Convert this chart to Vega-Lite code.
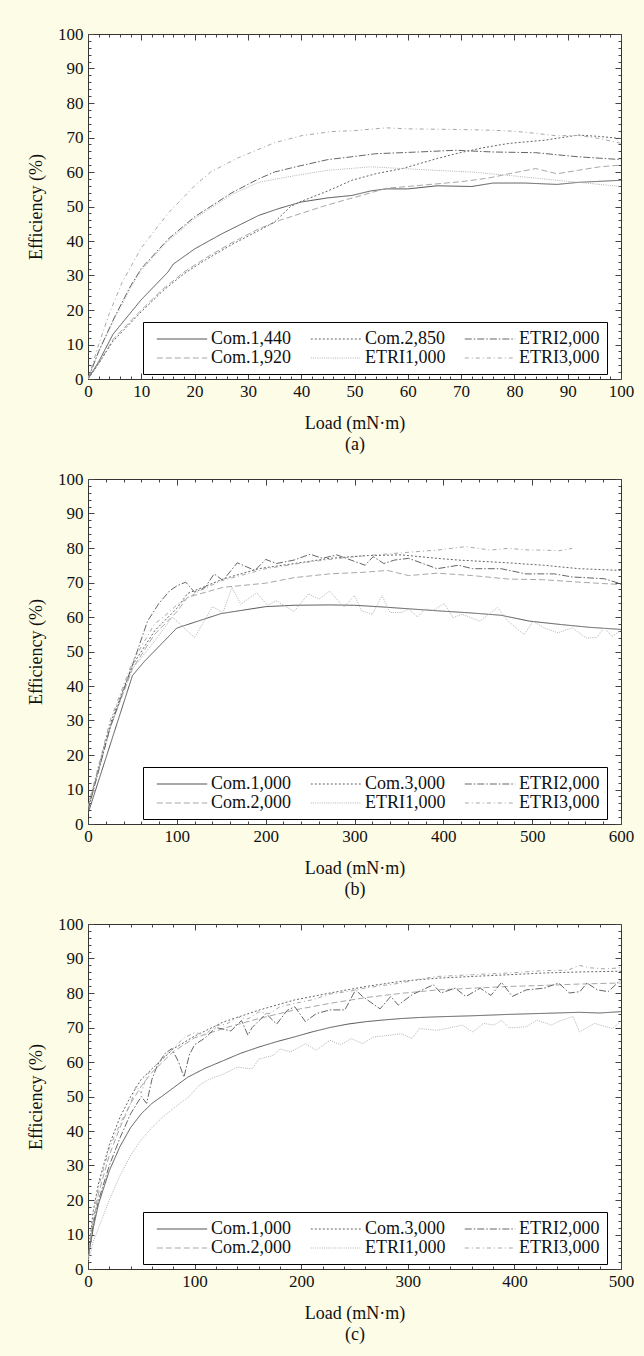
{
  "$schema": "https://vega.github.io/schema/vega-lite/v6.json",
  "background": "#fdfce6",
  "padding": {"left": 27, "top": 24, "right": 11, "bottom": 14},
  "autosize": {"type": "pad"},
  "bounds": "flush",
  "spacing": 100,
  "datasets": {
    "a": [
      {"series":"Com.1,440","load":0,"eff":0},{"series":"Com.1,440","load":2,"eff":5},{"series":"Com.1,440","load":4.7,"eff":13},{"series":"Com.1,440","load":10,"eff":23},{"series":"Com.1,440","load":15,"eff":31},{"series":"Com.1,440","load":16,"eff":33.3},{"series":"Com.1,440","load":20,"eff":37.7},{"series":"Com.1,440","load":25,"eff":42},{"series":"Com.1,440","load":32,"eff":47.4},{"series":"Com.1,440","load":36,"eff":49.5},{"series":"Com.1,440","load":40,"eff":51.3},{"series":"Com.1,440","load":45,"eff":52.5},{"series":"Com.1,440","load":49.5,"eff":53.2},{"series":"Com.1,440","load":53,"eff":54.5},{"series":"Com.1,440","load":56,"eff":55.1},{"series":"Com.1,440","load":60,"eff":55.1},{"series":"Com.1,440","load":65.5,"eff":56},{"series":"Com.1,440","load":72,"eff":55.8},{"series":"Com.1,440","load":76,"eff":56.8},{"series":"Com.1,440","load":82,"eff":56.8},{"series":"Com.1,440","load":88,"eff":56.4},{"series":"Com.1,440","load":92,"eff":57},{"series":"Com.1,440","load":100,"eff":57.6},
      {"series":"Com.1,920","load":0,"eff":0},{"series":"Com.1,920","load":2,"eff":4.5},{"series":"Com.1,920","load":4.7,"eff":11.5},{"series":"Com.1,920","load":10,"eff":20},{"series":"Com.1,920","load":14,"eff":26},{"series":"Com.1,920","load":18,"eff":31},{"series":"Com.1,920","load":22,"eff":35},{"series":"Com.1,920","load":27,"eff":39.5},{"series":"Com.1,920","load":32,"eff":43.5},{"series":"Com.1,920","load":36,"eff":46},{"series":"Com.1,920","load":40,"eff":48},{"series":"Com.1,920","load":44,"eff":50},{"series":"Com.1,920","load":48,"eff":51.8},{"series":"Com.1,920","load":52,"eff":53.5},{"series":"Com.1,920","load":56,"eff":55.3},{"series":"Com.1,920","load":60,"eff":55.8},{"series":"Com.1,920","load":65,"eff":56.5},{"series":"Com.1,920","load":70,"eff":57.2},{"series":"Com.1,920","load":75,"eff":58.2},{"series":"Com.1,920","load":80,"eff":59.8},{"series":"Com.1,920","load":84,"eff":61},{"series":"Com.1,920","load":88,"eff":59.5},{"series":"Com.1,920","load":92,"eff":60.5},{"series":"Com.1,920","load":96,"eff":61.5},{"series":"Com.1,920","load":100,"eff":62},
      {"series":"Com.2,850","load":0,"eff":0},{"series":"Com.2,850","load":2,"eff":4.5},{"series":"Com.2,850","load":4.7,"eff":11},{"series":"Com.2,850","load":10,"eff":19.5},{"series":"Com.2,850","load":14,"eff":25.5},{"series":"Com.2,850","load":18,"eff":30.5},{"series":"Com.2,850","load":22,"eff":34.5},{"series":"Com.2,850","load":27,"eff":39},{"series":"Com.2,850","load":32,"eff":43},{"series":"Com.2,850","load":35,"eff":45.5},{"series":"Com.2,850","load":38,"eff":50},{"series":"Com.2,850","load":40,"eff":51.5},{"series":"Com.2,850","load":45,"eff":54.5},{"series":"Com.2,850","load":49.5,"eff":57.6},{"series":"Com.2,850","load":54,"eff":59.5},{"series":"Com.2,850","load":59,"eff":61},{"series":"Com.2,850","load":65.5,"eff":63.9},{"series":"Com.2,850","load":69,"eff":65.3},{"series":"Com.2,850","load":74,"eff":67},{"series":"Com.2,850","load":79,"eff":68.3},{"series":"Com.2,850","load":85.6,"eff":69.2},{"series":"Com.2,850","load":92,"eff":70.7},{"series":"Com.2,850","load":96,"eff":70.3},{"series":"Com.2,850","load":100,"eff":69.7},
      {"series":"ETRI1,000","load":0,"eff":0},{"series":"ETRI1,000","load":2,"eff":8},{"series":"ETRI1,000","load":5,"eff":17.5},{"series":"ETRI1,000","load":8,"eff":26.5},{"series":"ETRI1,000","load":10,"eff":31.5},{"series":"ETRI1,000","load":15,"eff":40},{"series":"ETRI1,000","load":20,"eff":46.5},{"series":"ETRI1,000","load":23,"eff":49.5},{"series":"ETRI1,000","load":27,"eff":53.5},{"series":"ETRI1,000","load":32,"eff":57},{"series":"ETRI1,000","load":39,"eff":59},{"series":"ETRI1,000","load":45,"eff":60.5},{"series":"ETRI1,000","load":53,"eff":61.5},{"series":"ETRI1,000","load":59,"eff":61},{"series":"ETRI1,000","load":65,"eff":60.5},{"series":"ETRI1,000","load":72,"eff":60},{"series":"ETRI1,000","load":79,"eff":59},{"series":"ETRI1,000","load":88,"eff":57.6},{"series":"ETRI1,000","load":100,"eff":55.8},
      {"series":"ETRI2,000","load":0,"eff":0},{"series":"ETRI2,000","load":2,"eff":8},{"series":"ETRI2,000","load":5,"eff":18},{"series":"ETRI2,000","load":8,"eff":27},{"series":"ETRI2,000","load":10,"eff":32},{"series":"ETRI2,000","load":15,"eff":40.5},{"series":"ETRI2,000","load":20,"eff":47},{"series":"ETRI2,000","load":23,"eff":50},{"series":"ETRI2,000","load":27,"eff":54},{"series":"ETRI2,000","load":32,"eff":58},{"series":"ETRI2,000","load":35,"eff":60},{"series":"ETRI2,000","load":39,"eff":61.5},{"series":"ETRI2,000","load":45,"eff":63.6},{"series":"ETRI2,000","load":50,"eff":64.5},{"series":"ETRI2,000","load":54,"eff":65.3},{"series":"ETRI2,000","load":62,"eff":65.8},{"series":"ETRI2,000","load":69,"eff":66.3},{"series":"ETRI2,000","load":76,"eff":65.8},{"series":"ETRI2,000","load":84,"eff":65.6},{"series":"ETRI2,000","load":92,"eff":64.4},{"series":"ETRI2,000","load":100,"eff":63.6},
      {"series":"ETRI3,000","load":0,"eff":0},{"series":"ETRI3,000","load":2,"eff":10},{"series":"ETRI3,000","load":4,"eff":19},{"series":"ETRI3,000","load":6.4,"eff":28},{"series":"ETRI3,000","load":10,"eff":38},{"series":"ETRI3,000","load":15,"eff":48},{"series":"ETRI3,000","load":20,"eff":56},{"series":"ETRI3,000","load":23,"eff":60},{"series":"ETRI3,000","load":28,"eff":64},{"series":"ETRI3,000","load":35,"eff":68.5},{"series":"ETRI3,000","load":40,"eff":70.5},{"series":"ETRI3,000","load":45.5,"eff":71.7},{"series":"ETRI3,000","load":50,"eff":72},{"series":"ETRI3,000","load":56,"eff":72.8},{"series":"ETRI3,000","load":60,"eff":72.5},{"series":"ETRI3,000","load":65.5,"eff":72.4},{"series":"ETRI3,000","load":70,"eff":72.3},{"series":"ETRI3,000","load":76,"eff":72.1},{"series":"ETRI3,000","load":80,"eff":71.8},{"series":"ETRI3,000","load":84,"eff":71.2},{"series":"ETRI3,000","load":88,"eff":70.5},{"series":"ETRI3,000","load":92,"eff":70.6},{"series":"ETRI3,000","load":96,"eff":69.7},{"series":"ETRI3,000","load":100,"eff":68.3}
    ],
    "b": [
      {"series":"Com.1,000","load":0,"eff":3},{"series":"Com.1,000","load":50,"eff":43},{"series":"Com.1,000","load":63,"eff":47},{"series":"Com.1,000","load":100,"eff":56.8},{"series":"Com.1,000","load":150,"eff":61},{"series":"Com.1,000","load":200,"eff":63},{"series":"Com.1,000","load":232,"eff":63.4},{"series":"Com.1,000","load":272,"eff":63.5},{"series":"Com.1,000","load":300,"eff":63.4},{"series":"Com.1,000","load":332,"eff":62.9},{"series":"Com.1,000","load":393,"eff":61.8},{"series":"Com.1,000","load":430,"eff":61.2},{"series":"Com.1,000","load":465,"eff":60.5},{"series":"Com.1,000","load":497,"eff":58.8},{"series":"Com.1,000","load":533,"eff":57.8},{"series":"Com.1,000","load":565,"eff":57},{"series":"Com.1,000","load":600,"eff":56.4},
      {"series":"Com.2,000","load":0,"eff":4},{"series":"Com.2,000","load":25,"eff":28},{"series":"Com.2,000","load":50,"eff":45},{"series":"Com.2,000","load":75,"eff":55},{"series":"Com.2,000","load":100,"eff":61.5},{"series":"Com.2,000","load":112,"eff":65.7},{"series":"Com.2,000","load":152,"eff":68.6},{"series":"Com.2,000","load":200,"eff":69.8},{"series":"Com.2,000","load":232,"eff":71.4},{"series":"Com.2,000","load":272,"eff":72.5},{"series":"Com.2,000","load":313,"eff":73},{"series":"Com.2,000","load":337,"eff":73.5},{"series":"Com.2,000","load":361,"eff":72},{"series":"Com.2,000","load":393,"eff":72.7},{"series":"Com.2,000","load":433,"eff":72},{"series":"Com.2,000","load":473,"eff":71},{"series":"Com.2,000","load":513,"eff":70.8},{"series":"Com.2,000","load":553,"eff":70.1},{"series":"Com.2,000","load":600,"eff":69.4},
      {"series":"Com.3,000","load":0,"eff":5},{"series":"Com.3,000","load":25,"eff":29},{"series":"Com.3,000","load":50,"eff":46},{"series":"Com.3,000","load":75,"eff":56},{"series":"Com.3,000","load":100,"eff":62.5},{"series":"Com.3,000","load":112,"eff":66.8},{"series":"Com.3,000","load":152,"eff":71},{"series":"Com.3,000","load":192,"eff":74},{"series":"Com.3,000","load":232,"eff":75.5},{"series":"Com.3,000","load":272,"eff":77},{"series":"Com.3,000","load":313,"eff":77.8},{"series":"Com.3,000","load":353,"eff":78},{"series":"Com.3,000","load":393,"eff":77},{"series":"Com.3,000","load":417,"eff":76.5},{"series":"Com.3,000","load":473,"eff":75.7},{"series":"Com.3,000","load":513,"eff":75},{"series":"Com.3,000","load":553,"eff":74},{"series":"Com.3,000","load":600,"eff":73.5},
      {"series":"ETRI1,000","load":0,"eff":5},{"series":"ETRI1,000","load":25,"eff":28},{"series":"ETRI1,000","load":50,"eff":45},{"series":"ETRI1,000","load":75,"eff":53},{"series":"ETRI1,000","load":95,"eff":60},{"series":"ETRI1,000","load":120,"eff":54},{"series":"ETRI1,000","load":140,"eff":63},{"series":"ETRI1,000","load":152,"eff":61.3},{"series":"ETRI1,000","load":162,"eff":68.6},{"series":"ETRI1,000","load":172,"eff":63.7},{"series":"ETRI1,000","load":190,"eff":67},{"series":"ETRI1,000","load":202,"eff":63.4},{"series":"ETRI1,000","load":212,"eff":64.7},{"series":"ETRI1,000","load":232,"eff":61.6},{"series":"ETRI1,000","load":248,"eff":66.7},{"series":"ETRI1,000","load":260,"eff":65.2},{"series":"ETRI1,000","load":272,"eff":67.5},{"series":"ETRI1,000","load":288,"eff":62.9},{"series":"ETRI1,000","load":300,"eff":66.2},{"series":"ETRI1,000","load":308,"eff":61.8},{"series":"ETRI1,000","load":320,"eff":60.8},{"series":"ETRI1,000","load":331,"eff":66.2},{"series":"ETRI1,000","load":340,"eff":61.3},{"series":"ETRI1,000","load":353,"eff":61.3},{"series":"ETRI1,000","load":361,"eff":62.3},{"series":"ETRI1,000","load":371,"eff":60},{"series":"ETRI1,000","load":379,"eff":62.3},{"series":"ETRI1,000","load":389,"eff":62},{"series":"ETRI1,000","load":401,"eff":63.9},{"series":"ETRI1,000","load":411,"eff":59.8},{"series":"ETRI1,000","load":421,"eff":60.8},{"series":"ETRI1,000","load":441,"eff":58.8},{"series":"ETRI1,000","load":461,"eff":62.7},{"series":"ETRI1,000","load":473,"eff":58.8},{"series":"ETRI1,000","load":491,"eff":54.9},{"series":"ETRI1,000","load":501,"eff":58.8},{"series":"ETRI1,000","load":513,"eff":56.9},{"series":"ETRI1,000","load":529,"eff":55.4},{"series":"ETRI1,000","load":545,"eff":56.9},{"series":"ETRI1,000","load":561,"eff":53.9},{"series":"ETRI1,000","load":573,"eff":54.1},{"series":"ETRI1,000","load":581,"eff":56.9},{"series":"ETRI1,000","load":590,"eff":54.4},{"series":"ETRI1,000","load":600,"eff":56.1},
      {"series":"ETRI2,000","load":0,"eff":4},{"series":"ETRI2,000","load":25,"eff":28},{"series":"ETRI2,000","load":50,"eff":46},{"series":"ETRI2,000","load":67,"eff":58.8},{"series":"ETRI2,000","load":80,"eff":64},{"series":"ETRI2,000","load":92,"eff":67.6},{"series":"ETRI2,000","load":100,"eff":69},{"series":"ETRI2,000","load":110,"eff":70.1},{"series":"ETRI2,000","load":120,"eff":67.2},{"series":"ETRI2,000","load":132,"eff":68.6},{"series":"ETRI2,000","load":142,"eff":72.5},{"series":"ETRI2,000","load":152,"eff":70.6},{"series":"ETRI2,000","load":168,"eff":75.7},{"series":"ETRI2,000","load":188,"eff":73.5},{"series":"ETRI2,000","load":200,"eff":76.7},{"series":"ETRI2,000","load":212,"eff":75.5},{"series":"ETRI2,000","load":232,"eff":76.5},{"series":"ETRI2,000","load":250,"eff":78.2},{"series":"ETRI2,000","load":264,"eff":77},{"series":"ETRI2,000","load":280,"eff":78},{"series":"ETRI2,000","load":296,"eff":76.5},{"series":"ETRI2,000","load":312,"eff":75},{"series":"ETRI2,000","load":321,"eff":77.5},{"series":"ETRI2,000","load":333,"eff":75.5},{"series":"ETRI2,000","load":345,"eff":76.5},{"series":"ETRI2,000","load":361,"eff":77},{"series":"ETRI2,000","load":377,"eff":75.5},{"series":"ETRI2,000","load":393,"eff":74},{"series":"ETRI2,000","load":417,"eff":75},{"series":"ETRI2,000","load":433,"eff":74},{"series":"ETRI2,000","load":465,"eff":74},{"series":"ETRI2,000","load":493,"eff":72.5},{"series":"ETRI2,000","load":525,"eff":72.5},{"series":"ETRI2,000","load":545,"eff":71.6},{"series":"ETRI2,000","load":581,"eff":71.1},{"series":"ETRI2,000","load":600,"eff":69.6},
      {"series":"ETRI3,000","load":0,"eff":5},{"series":"ETRI3,000","load":25,"eff":30},{"series":"ETRI3,000","load":50,"eff":47},{"series":"ETRI3,000","load":75,"eff":58},{"series":"ETRI3,000","load":85,"eff":60},{"series":"ETRI3,000","load":100,"eff":63.5},{"series":"ETRI3,000","load":125,"eff":67.5},{"series":"ETRI3,000","load":150,"eff":70.5},{"series":"ETRI3,000","load":200,"eff":74},{"series":"ETRI3,000","load":250,"eff":76},{"series":"ETRI3,000","load":300,"eff":77.5},{"series":"ETRI3,000","load":353,"eff":78.6},{"series":"ETRI3,000","load":393,"eff":79.4},{"series":"ETRI3,000","load":425,"eff":80.4},{"series":"ETRI3,000","load":453,"eff":79.4},{"series":"ETRI3,000","load":473,"eff":79.9},{"series":"ETRI3,000","load":497,"eff":79.4},{"series":"ETRI3,000","load":513,"eff":79.4},{"series":"ETRI3,000","load":530,"eff":79.2},{"series":"ETRI3,000","load":545,"eff":79.9}
    ],
    "c": [
      {"series":"Com.1,000","load":0,"eff":3},{"series":"Com.1,000","load":5,"eff":12},{"series":"Com.1,000","load":10,"eff":19},{"series":"Com.1,000","load":20,"eff":28.5},{"series":"Com.1,000","load":30,"eff":35.5},{"series":"Com.1,000","load":40,"eff":41},{"series":"Com.1,000","load":50,"eff":45},{"series":"Com.1,000","load":60,"eff":48},{"series":"Com.1,000","load":70,"eff":50.2},{"series":"Com.1,000","load":80,"eff":52.5},{"series":"Com.1,000","load":93.6,"eff":55.6},{"series":"Com.1,000","load":110,"eff":58.2},{"series":"Com.1,000","load":127,"eff":60.4},{"series":"Com.1,000","load":143,"eff":62.5},{"series":"Com.1,000","load":160,"eff":64.3},{"series":"Com.1,000","load":177,"eff":65.9},{"series":"Com.1,000","load":194,"eff":67.3},{"series":"Com.1,000","load":210,"eff":68.7},{"series":"Com.1,000","load":227,"eff":70},{"series":"Com.1,000","load":244,"eff":71},{"series":"Com.1,000","load":261,"eff":71.7},{"series":"Com.1,000","load":278,"eff":72.2},{"series":"Com.1,000","load":294,"eff":72.6},{"series":"Com.1,000","load":311,"eff":72.9},{"series":"Com.1,000","load":328,"eff":73.1},{"series":"Com.1,000","load":361,"eff":73.4},{"series":"Com.1,000","load":395,"eff":73.8},{"series":"Com.1,000","load":428,"eff":74.1},{"series":"Com.1,000","load":461,"eff":74.4},{"series":"Com.1,000","load":480,"eff":74.2},{"series":"Com.1,000","load":500,"eff":74.6},
      {"series":"Com.2,000","load":0,"eff":3},{"series":"Com.2,000","load":5,"eff":14},{"series":"Com.2,000","load":10,"eff":22},{"series":"Com.2,000","load":20,"eff":33},{"series":"Com.2,000","load":30,"eff":41},{"series":"Com.2,000","load":40,"eff":48},{"series":"Com.2,000","load":50,"eff":53},{"series":"Com.2,000","load":60,"eff":57},{"series":"Com.2,000","load":80,"eff":63},{"series":"Com.2,000","load":100,"eff":67},{"series":"Com.2,000","load":130,"eff":70},{"series":"Com.2,000","load":160.5,"eff":72.6},{"series":"Com.2,000","load":194,"eff":75.1},{"series":"Com.2,000","load":227,"eff":77},{"series":"Com.2,000","load":261,"eff":78.7},{"series":"Com.2,000","load":294,"eff":79.9},{"series":"Com.2,000","load":328,"eff":80.9},{"series":"Com.2,000","load":361,"eff":81.4},{"series":"Com.2,000","load":395,"eff":81.9},{"series":"Com.2,000","load":428,"eff":82.2},{"series":"Com.2,000","load":461,"eff":82.6},{"series":"Com.2,000","load":500,"eff":82.9},
      {"series":"Com.3,000","load":0,"eff":4},{"series":"Com.3,000","load":5,"eff":17},{"series":"Com.3,000","load":10,"eff":25},{"series":"Com.3,000","load":20,"eff":36},{"series":"Com.3,000","load":30,"eff":44},{"series":"Com.3,000","load":40,"eff":50},{"series":"Com.3,000","load":50,"eff":55},{"series":"Com.3,000","load":60,"eff":58},{"series":"Com.3,000","load":80,"eff":63.8},{"series":"Com.3,000","load":100,"eff":67.5},{"series":"Com.3,000","load":127,"eff":71.6},{"series":"Com.3,000","load":160,"eff":75},{"series":"Com.3,000","load":194,"eff":78},{"series":"Com.3,000","load":227,"eff":80},{"series":"Com.3,000","load":261,"eff":81.9},{"series":"Com.3,000","load":294,"eff":83.4},{"series":"Com.3,000","load":328,"eff":84.3},{"series":"Com.3,000","load":361,"eff":84.8},{"series":"Com.3,000","load":395,"eff":85.3},{"series":"Com.3,000","load":428,"eff":85.8},{"series":"Com.3,000","load":461,"eff":86.1},{"series":"Com.3,000","load":500,"eff":86.3},
      {"series":"ETRI1,000","load":0,"eff":2},{"series":"ETRI1,000","load":5,"eff":8},{"series":"ETRI1,000","load":10,"eff":12},{"series":"ETRI1,000","load":20,"eff":20},{"series":"ETRI1,000","load":30,"eff":27},{"series":"ETRI1,000","load":40,"eff":33},{"series":"ETRI1,000","load":50,"eff":37.5},{"series":"ETRI1,000","load":60,"eff":41},{"series":"ETRI1,000","load":70,"eff":44},{"series":"ETRI1,000","load":80,"eff":46.5},{"series":"ETRI1,000","load":87,"eff":48.2},{"series":"ETRI1,000","load":95,"eff":50},{"series":"ETRI1,000","load":103.7,"eff":53.1},{"series":"ETRI1,000","load":113.7,"eff":55},{"series":"ETRI1,000","load":127,"eff":56.5},{"series":"ETRI1,000","load":140,"eff":58.5},{"series":"ETRI1,000","load":154,"eff":58},{"series":"ETRI1,000","load":160.5,"eff":60.9},{"series":"ETRI1,000","load":174,"eff":61.9},{"series":"ETRI1,000","load":180,"eff":63.8},{"series":"ETRI1,000","load":190,"eff":62.9},{"series":"ETRI1,000","load":204,"eff":65.3},{"series":"ETRI1,000","load":214,"eff":63.4},{"series":"ETRI1,000","load":227,"eff":66.3},{"series":"ETRI1,000","load":237,"eff":65},{"series":"ETRI1,000","load":247,"eff":66.8},{"series":"ETRI1,000","load":257.5,"eff":65.3},{"series":"ETRI1,000","load":267.6,"eff":67.2},{"series":"ETRI1,000","load":281,"eff":67.7},{"series":"ETRI1,000","load":294,"eff":68.2},{"series":"ETRI1,000","load":304,"eff":66.8},{"series":"ETRI1,000","load":311,"eff":69.7},{"series":"ETRI1,000","load":328,"eff":69.2},{"series":"ETRI1,000","load":344,"eff":70.2},{"series":"ETRI1,000","load":351,"eff":70.7},{"series":"ETRI1,000","load":361,"eff":68.7},{"series":"ETRI1,000","load":371,"eff":71.2},{"series":"ETRI1,000","load":381,"eff":70.7},{"series":"ETRI1,000","load":388,"eff":72.1},{"series":"ETRI1,000","load":395,"eff":69.9},{"series":"ETRI1,000","load":411,"eff":70.2},{"series":"ETRI1,000","load":421,"eff":72.1},{"series":"ETRI1,000","load":435,"eff":70.7},{"series":"ETRI1,000","load":441,"eff":71.7},{"series":"ETRI1,000","load":455,"eff":73.2},{"series":"ETRI1,000","load":461,"eff":68.7},{"series":"ETRI1,000","load":475,"eff":71.2},{"series":"ETRI1,000","load":492,"eff":69.7},{"series":"ETRI1,000","load":500,"eff":71.8},
      {"series":"ETRI2,000","load":0,"eff":3},{"series":"ETRI2,000","load":5,"eff":13},{"series":"ETRI2,000","load":10,"eff":20},{"series":"ETRI2,000","load":20,"eff":30},{"series":"ETRI2,000","load":30,"eff":38},{"series":"ETRI2,000","load":40,"eff":45},{"series":"ETRI2,000","load":50,"eff":50},{"series":"ETRI2,000","load":55,"eff":48},{"series":"ETRI2,000","load":60,"eff":55},{"series":"ETRI2,000","load":65,"eff":59},{"series":"ETRI2,000","load":72,"eff":62.4},{"series":"ETRI2,000","load":78.6,"eff":63.9},{"series":"ETRI2,000","load":85,"eff":60},{"series":"ETRI2,000","load":90,"eff":55.6},{"series":"ETRI2,000","load":95,"eff":62},{"series":"ETRI2,000","load":100,"eff":65},{"series":"ETRI2,000","load":110,"eff":67},{"series":"ETRI2,000","load":120,"eff":70},{"series":"ETRI2,000","load":134,"eff":69},{"series":"ETRI2,000","load":144,"eff":72},{"series":"ETRI2,000","load":150,"eff":67.8},{"series":"ETRI2,000","load":154,"eff":70},{"series":"ETRI2,000","load":167,"eff":74},{"series":"ETRI2,000","load":177,"eff":71},{"series":"ETRI2,000","load":187,"eff":75},{"series":"ETRI2,000","load":194,"eff":76},{"series":"ETRI2,000","load":204,"eff":71.7},{"series":"ETRI2,000","load":214,"eff":74},{"series":"ETRI2,000","load":227,"eff":75.1},{"series":"ETRI2,000","load":241,"eff":75.1},{"series":"ETRI2,000","load":251,"eff":80.9},{"series":"ETRI2,000","load":257.5,"eff":79},{"series":"ETRI2,000","load":274,"eff":75.4},{"series":"ETRI2,000","load":284,"eff":79},{"series":"ETRI2,000","load":291,"eff":76.5},{"series":"ETRI2,000","load":304,"eff":79.5},{"series":"ETRI2,000","load":324,"eff":82.4},{"series":"ETRI2,000","load":331,"eff":80},{"series":"ETRI2,000","load":344.5,"eff":81.4},{"series":"ETRI2,000","load":354.5,"eff":79},{"series":"ETRI2,000","load":368,"eff":81.4},{"series":"ETRI2,000","load":378,"eff":79.3},{"series":"ETRI2,000","load":388,"eff":83.1},{"series":"ETRI2,000","load":398,"eff":79},{"series":"ETRI2,000","load":411,"eff":80.9},{"series":"ETRI2,000","load":428,"eff":81.4},{"series":"ETRI2,000","load":441.5,"eff":82.9},{"series":"ETRI2,000","load":451.5,"eff":80},{"series":"ETRI2,000","load":461.5,"eff":80.4},{"series":"ETRI2,000","load":468,"eff":82.9},{"series":"ETRI2,000","load":478,"eff":80.9},{"series":"ETRI2,000","load":488,"eff":80.4},{"series":"ETRI2,000","load":500,"eff":83.9},
      {"series":"ETRI3,000","load":0,"eff":3},{"series":"ETRI3,000","load":5,"eff":15},{"series":"ETRI3,000","load":10,"eff":24},{"series":"ETRI3,000","load":20,"eff":35},{"series":"ETRI3,000","load":30,"eff":42},{"series":"ETRI3,000","load":40,"eff":48},{"series":"ETRI3,000","load":45,"eff":53},{"series":"ETRI3,000","load":50,"eff":51},{"series":"ETRI3,000","load":55,"eff":56},{"series":"ETRI3,000","load":60,"eff":58},{"series":"ETRI3,000","load":70,"eff":61},{"series":"ETRI3,000","load":80,"eff":64},{"series":"ETRI3,000","load":90,"eff":67},{"series":"ETRI3,000","load":100,"eff":68.5},{"series":"ETRI3,000","load":110,"eff":68},{"series":"ETRI3,000","load":120,"eff":70.5},{"series":"ETRI3,000","load":130,"eff":71},{"series":"ETRI3,000","load":140,"eff":73},{"series":"ETRI3,000","load":150,"eff":72.5},{"series":"ETRI3,000","load":160,"eff":74.5},{"series":"ETRI3,000","load":170,"eff":74},{"series":"ETRI3,000","load":180,"eff":76},{"series":"ETRI3,000","load":194,"eff":77},{"series":"ETRI3,000","load":210,"eff":78},{"series":"ETRI3,000","load":227,"eff":79.7},{"series":"ETRI3,000","load":245,"eff":80.5},{"series":"ETRI3,000","load":261,"eff":81.5},{"series":"ETRI3,000","load":280,"eff":82.3},{"series":"ETRI3,000","load":294,"eff":82.9},{"series":"ETRI3,000","load":310,"eff":84},{"series":"ETRI3,000","load":328,"eff":84.8},{"series":"ETRI3,000","load":361,"eff":85.3},{"series":"ETRI3,000","load":395,"eff":85.8},{"series":"ETRI3,000","load":428,"eff":86.5},{"series":"ETRI3,000","load":450,"eff":86.6},{"series":"ETRI3,000","load":461,"eff":88},{"series":"ETRI3,000","load":471,"eff":87.3},{"series":"ETRI3,000","load":485,"eff":87},{"series":"ETRI3,000","load":500,"eff":87.3}
    ]
  },
  "vconcat": [
    {
      "width": 533, "height": 345,
      "data": {"name": "a"},
      "layer": [
        {
          "mark": {"type": "line", "strokeWidth": 1, "clip": true},
          "encoding": {
            "x": {"field": "load", "type": "quantitative", "scale": {"domain": [0, 100], "nice": false},
              "axis": {"orient": "bottom", "values": [0,2,4,6,8,10,12,14,16,18,20,22,24,26,28,30,32,34,36,38,40,42,44,46,48,50,52,54,56,58,60,62,64,66,68,70,72,74,76,78,80,82,84,86,88,90,92,94,96,98,100],
                "labelExpr": "datum.value % 10 === 0 ? datum.label : ''",
                "tickSize": {"condition": {"test": "datum.value % 10 === 0", "value": -6}, "value": -3},
                "labelPadding": 10.5, "title": ["Load (mN·m)", "(a)"], "titleLineHeight": 21, "titlePadding": 12}},
            "y": {"field": "eff", "type": "quantitative", "scale": {"domain": [0, 100], "nice": false},
              "axis": {"orient": "left", "values": [0,2,4,6,8,10,12,14,16,18,20,22,24,26,28,30,32,34,36,38,40,42,44,46,48,50,52,54,56,58,60,62,64,66,68,70,72,74,76,78,80,82,84,86,88,90,92,94,96,98,100],
                "labelExpr": "datum.value % 10 === 0 ? datum.label : ''",
                "tickSize": {"condition": {"test": "datum.value % 10 === 0", "value": -6}, "value": -3},
                "labelPadding": 11, "title": "Efficiency (%)", "titlePadding": 12}},
            "color": {"field": "series", "type": "nominal",
              "scale": {"domain": ["Com.1,440","Com.1,920","Com.2,850","ETRI1,000","ETRI2,000","ETRI3,000"], "range": ["#555555","#a8a8a8","#666666","#b4b4b4","#666666","#a8a8a8"]},
              "legend": {"orient": "none", "legendX": 55, "legendY": 288, "columns": 3, "title": null}},
            "strokeDash": {"field": "series", "type": "nominal",
              "scale": {"domain": ["Com.1,440","Com.1,920","Com.2,850","ETRI1,000","ETRI2,000","ETRI3,000"], "range": [[1,0],[6,3],[2,2],[1,1.2],[7,2,1.5,2],[4,3,1,3]]},
              "legend": {"orient": "none", "legendX": 55, "legendY": 288, "columns": 3, "title": null}}
          }
        },
        {
          "mark": {"type": "point", "opacity": 0, "size": 0},
          "encoding": {
            "x": {"field": "load", "type": "quantitative",
              "axis": {"orient": "top", "values": [0,2,4,6,8,10,12,14,16,18,20,22,24,26,28,30,32,34,36,38,40,42,44,46,48,50,52,54,56,58,60,62,64,66,68,70,72,74,76,78,80,82,84,86,88,90,92,94,96,98,100], "labels": false, "title": null,
                "tickSize": {"condition": {"test": "datum.value % 10 === 0", "value": -6}, "value": -3}}},
            "y": {"field": "eff", "type": "quantitative",
              "axis": {"orient": "right", "values": [0,2,4,6,8,10,12,14,16,18,20,22,24,26,28,30,32,34,36,38,40,42,44,46,48,50,52,54,56,58,60,62,64,66,68,70,72,74,76,78,80,82,84,86,88,90,92,94,96,98,100], "labels": false, "title": null,
                "tickSize": {"condition": {"test": "datum.value % 10 === 0", "value": -6}, "value": -3}}}
          }
        }
      ],
      "resolve": {"axis": {"x": "independent", "y": "independent"}}
    },
    {
      "width": 533, "height": 345,
      "data": {"name": "b"},
      "layer": [
        {
          "mark": {"type": "line", "strokeWidth": 1, "clip": true},
          "encoding": {
            "x": {"field": "load", "type": "quantitative", "scale": {"domain": [0, 600], "nice": false},
              "axis": {"orient": "bottom", "values": [0,20,40,60,80,100,120,140,160,180,200,220,240,260,280,300,320,340,360,380,400,420,440,460,480,500,520,540,560,580,600],
                "labelExpr": "datum.value % 100 === 0 ? datum.label : ''",
                "tickSize": {"condition": {"test": "datum.value % 100 === 0", "value": -6}, "value": -3},
                "labelPadding": 10.5, "title": ["Load (mN·m)", "(b)"], "titleLineHeight": 21, "titlePadding": 12}},
            "y": {"field": "eff", "type": "quantitative", "scale": {"domain": [0, 100], "nice": false},
              "axis": {"orient": "left", "values": [0,2,4,6,8,10,12,14,16,18,20,22,24,26,28,30,32,34,36,38,40,42,44,46,48,50,52,54,56,58,60,62,64,66,68,70,72,74,76,78,80,82,84,86,88,90,92,94,96,98,100],
                "labelExpr": "datum.value % 10 === 0 ? datum.label : ''",
                "tickSize": {"condition": {"test": "datum.value % 10 === 0", "value": -6}, "value": -3},
                "labelPadding": 11, "title": "Efficiency (%)", "titlePadding": 12}},
            "color": {"field": "series", "type": "nominal",
              "scale": {"domain": ["Com.1,000","Com.2,000","Com.3,000","ETRI1,000","ETRI2,000","ETRI3,000"], "range": ["#555555","#a8a8a8","#666666","#b4b4b4","#666666","#a8a8a8"]},
              "legend": {"orient": "none", "legendX": 55, "legendY": 288, "columns": 3, "title": null}},
            "strokeDash": {"field": "series", "type": "nominal",
              "scale": {"domain": ["Com.1,000","Com.2,000","Com.3,000","ETRI1,000","ETRI2,000","ETRI3,000"], "range": [[1,0],[6,3],[2,2],[1,1.2],[7,2,1.5,2],[4,3,1,3]]},
              "legend": {"orient": "none", "legendX": 55, "legendY": 288, "columns": 3, "title": null}}
          }
        },
        {
          "mark": {"type": "point", "opacity": 0, "size": 0},
          "encoding": {
            "x": {"field": "load", "type": "quantitative",
              "axis": {"orient": "top", "values": [0,20,40,60,80,100,120,140,160,180,200,220,240,260,280,300,320,340,360,380,400,420,440,460,480,500,520,540,560,580,600], "labels": false, "title": null,
                "tickSize": {"condition": {"test": "datum.value % 100 === 0", "value": -6}, "value": -3}}},
            "y": {"field": "eff", "type": "quantitative",
              "axis": {"orient": "right", "values": [0,2,4,6,8,10,12,14,16,18,20,22,24,26,28,30,32,34,36,38,40,42,44,46,48,50,52,54,56,58,60,62,64,66,68,70,72,74,76,78,80,82,84,86,88,90,92,94,96,98,100], "labels": false, "title": null,
                "tickSize": {"condition": {"test": "datum.value % 10 === 0", "value": -6}, "value": -3}}}
          }
        }
      ],
      "resolve": {"axis": {"x": "independent", "y": "independent"}}
    },
    {
      "width": 533, "height": 345,
      "data": {"name": "c"},
      "layer": [
        {
          "mark": {"type": "line", "strokeWidth": 1, "clip": true},
          "encoding": {
            "x": {"field": "load", "type": "quantitative", "scale": {"domain": [0, 500], "nice": false},
              "axis": {"orient": "bottom", "values": [0,20,40,60,80,100,120,140,160,180,200,220,240,260,280,300,320,340,360,380,400,420,440,460,480,500],
                "labelExpr": "datum.value % 100 === 0 ? datum.label : ''",
                "tickSize": {"condition": {"test": "datum.value % 100 === 0", "value": -6}, "value": -3},
                "labelPadding": 10.5, "title": ["Load (mN·m)", "(c)"], "titleLineHeight": 21, "titlePadding": 12}},
            "y": {"field": "eff", "type": "quantitative", "scale": {"domain": [0, 100], "nice": false},
              "axis": {"orient": "left", "values": [0,2,4,6,8,10,12,14,16,18,20,22,24,26,28,30,32,34,36,38,40,42,44,46,48,50,52,54,56,58,60,62,64,66,68,70,72,74,76,78,80,82,84,86,88,90,92,94,96,98,100],
                "labelExpr": "datum.value % 10 === 0 ? datum.label : ''",
                "tickSize": {"condition": {"test": "datum.value % 10 === 0", "value": -6}, "value": -3},
                "labelPadding": 11, "title": "Efficiency (%)", "titlePadding": 12}},
            "color": {"field": "series", "type": "nominal",
              "scale": {"domain": ["Com.1,000","Com.2,000","Com.3,000","ETRI1,000","ETRI2,000","ETRI3,000"], "range": ["#555555","#a8a8a8","#666666","#b4b4b4","#666666","#a8a8a8"]},
              "legend": {"orient": "none", "legendX": 55, "legendY": 288, "columns": 3, "title": null}},
            "strokeDash": {"field": "series", "type": "nominal",
              "scale": {"domain": ["Com.1,000","Com.2,000","Com.3,000","ETRI1,000","ETRI2,000","ETRI3,000"], "range": [[1,0],[6,3],[2,2],[1,1.2],[7,2,1.5,2],[4,3,1,3]]},
              "legend": {"orient": "none", "legendX": 55, "legendY": 288, "columns": 3, "title": null}}
          }
        },
        {
          "mark": {"type": "point", "opacity": 0, "size": 0},
          "encoding": {
            "x": {"field": "load", "type": "quantitative",
              "axis": {"orient": "top", "values": [0,20,40,60,80,100,120,140,160,180,200,220,240,260,280,300,320,340,360,380,400,420,440,460,480,500], "labels": false, "title": null,
                "tickSize": {"condition": {"test": "datum.value % 100 === 0", "value": -6}, "value": -3}}},
            "y": {"field": "eff", "type": "quantitative",
              "axis": {"orient": "right", "values": [0,2,4,6,8,10,12,14,16,18,20,22,24,26,28,30,32,34,36,38,40,42,44,46,48,50,52,54,56,58,60,62,64,66,68,70,72,74,76,78,80,82,84,86,88,90,92,94,96,98,100], "labels": false, "title": null,
                "tickSize": {"condition": {"test": "datum.value % 10 === 0", "value": -6}, "value": -3}}}
          }
        }
      ],
      "resolve": {"axis": {"x": "independent", "y": "independent"}}
    }
  ],
  "resolve": {"scale": {"color": "independent", "strokeDash": "independent"}, "legend": {"color": "independent", "strokeDash": "independent"}},
  "config": {
    "font": "Liberation Serif",
    "view": {"stroke": "#333333", "strokeWidth": 1, "fill": "#ffffff"},
    "axis": {"domain": false, "grid": false, "labelFont": "Liberation Serif", "labelFontSize": 17, "labelColor": "#111111",
      "titleFont": "Liberation Serif", "titleFontSize": 18, "titleFontWeight": "normal", "titleColor": "#111111",
      "tickColor": "#444444", "tickWidth": 1, "labelOverlap": false, "labelFlush": false, "labelBound": false},
    "legend": {"symbolType": "M-2.8,0H2.8", "symbolSize": 324, "symbolOffset": 22, "symbolStrokeWidth": 1.2, "labelFont": "Liberation Serif", "labelFontSize": 18,
      "labelColor": "#111111", "labelOffset": 19, "columnPadding": 12, "rowPadding": 0, "padding": 7,
      "strokeColor": "#000000", "fillColor": "#ffffff", "labelLimit": 300}
  }
}
